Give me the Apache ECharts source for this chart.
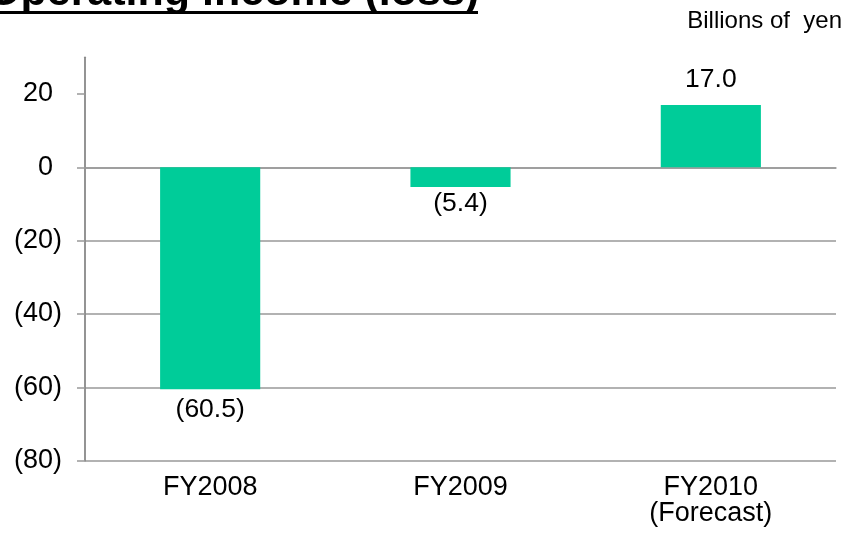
<!DOCTYPE html>
<html>
<head>
<meta charset="utf-8">
<script src="https://cdn.jsdelivr.net/npm/echarts@6/dist/echarts.min.js"></script>
<style>
html,body{margin:0;padding:0;background:#fff;}
#chart{width:846px;height:536px;}
</style>
</head>
<body>
<div id="chart"></div>
<script>
var categories = ['FY2008', 'FY2009', 'FY2010\n(Forecast)'];
var values = [-60.5, -5.4, 17.0];
var yTicks = [-80, -60, -40, -20, 0, 20];
var titleText = 'Operating income (loss)';
var unitText = 'Billions of  yen';

var FONT = '"Liberation Sans", Arial, sans-serif';
var labelDist = [7, 3, 12];

function fmt(v, dec) {
  var s = Math.abs(v).toFixed(dec);
  return v < 0 ? '(' + s + ')' : s;
}

var chart = echarts.init(document.getElementById('chart'), null, {renderer: 'canvas'});
chart.setOption({
  animation: false,
  backgroundColor: '#ffffff',
  grid: {left: 85, right: 10, top: 57.3, bottom: 75.3, containLabel: false},
  xAxis: {
    type: 'category',
    data: categories,
    axisLine: {show: true, lineStyle: {color: '#999999', width: 1.5}},
    axisTick: {show: false},
    axisLabel: {
      color: '#000', fontFamily: FONT, fontSize: 27, lineHeight: 26, margin: 14
    },
    splitLine: {show: false}
  },
  yAxis: {
    type: 'value',
    min: -80, max: 30, interval: 20,
    axisLine: {show: true, onZero: false, lineStyle: {color: '#888888', width: 1.8}},
    axisTick: {show: true, length: 8, customValues: yTicks, lineStyle: {color: '#999999', width: 1.5}},
    axisLabel: {
      customValues: yTicks,
      showMaxLabel: true,
      color: '#000', fontFamily: FONT, fontSize: 27, margin: 23,
      formatter: function (v) {
        return v < 0 ? '(' + Math.abs(v) + ')' : '{n|' + v + '}';
      },
      rich: {n: {color: '#000', fontFamily: FONT, fontSize: 27, padding: [0, 9, 0, 0]}}
    },
    splitLine: {show: true, showMaxLine: false, lineStyle: {color: '#999999', width: 1.5}}
  },
  series: [{
    type: 'bar',
    barWidth: '40%',
    itemStyle: {color: '#00CC99'},
    data: values.map(function (v, i) {
      return {
        value: v,
        label: {
          show: true, position: 'outside', distance: labelDist[i],
          formatter: function () { return fmt(v, 1); },
          color: '#000', fontFamily: FONT, fontSize: 26.5
        }
      };
    })
  }],
  graphic: [
    {
      type: 'text', left: -13, top: -28,
      style: {text: titleText, font: 'bold 43px ' + FONT, fill: '#000'}
    },
    {
      type: 'rect', shape: {x: 0, y: 11, width: 478, height: 3},
      style: {fill: '#000'}
    },
    {
      type: 'text', right: 4, top: 9,
      style: {text: unitText, font: '24px ' + FONT, fill: '#000'}
    }
  ]
});
</script>
</body>
</html>
